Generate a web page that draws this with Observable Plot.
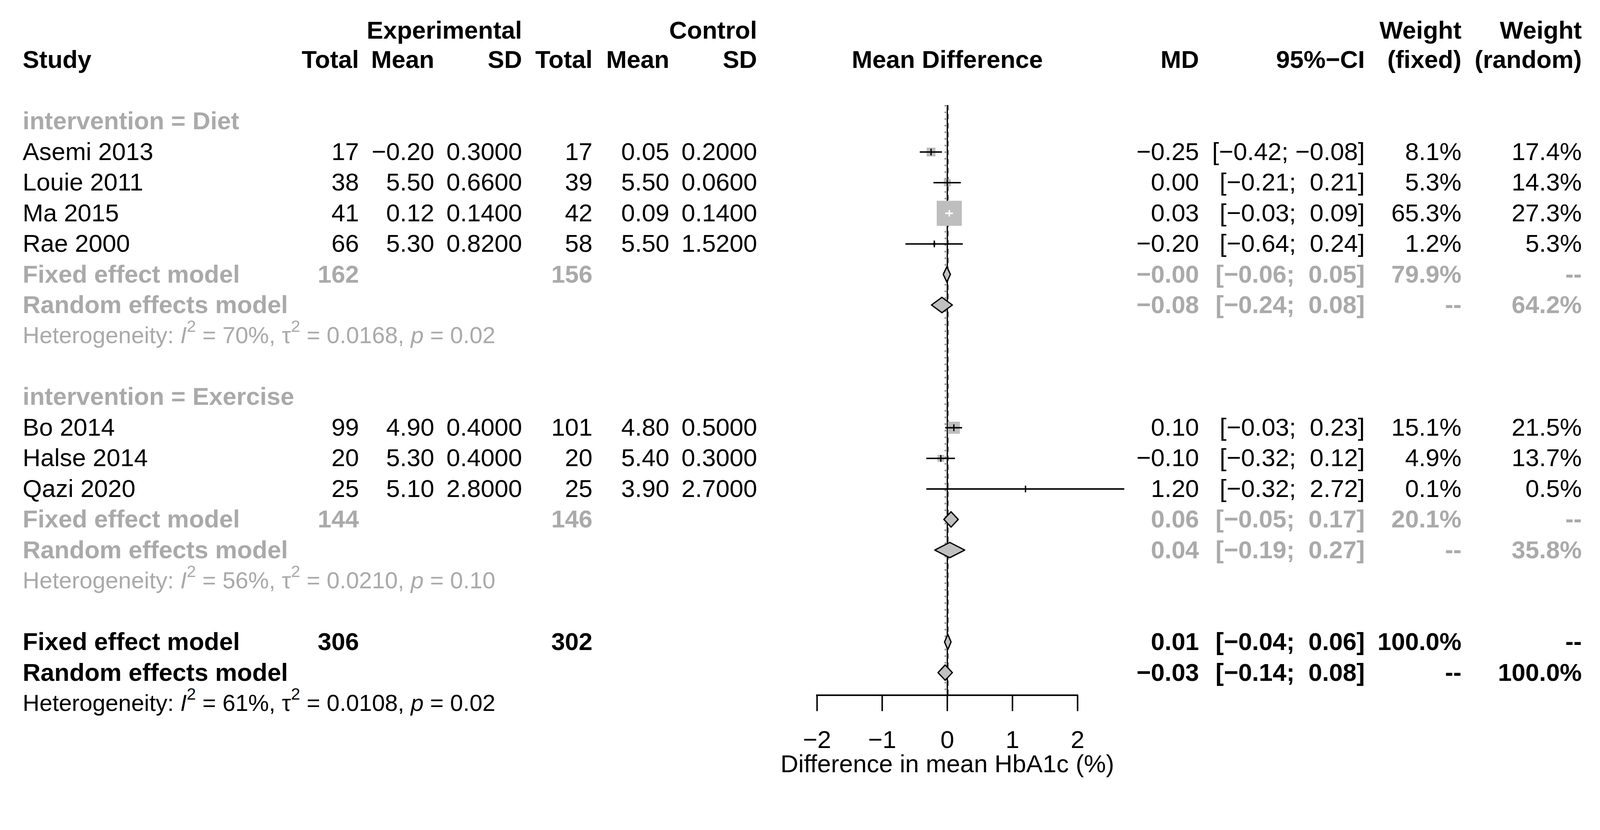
<!DOCTYPE html>
<html><head><meta charset="utf-8">
<script src="https://cdn.jsdelivr.net/npm/d3@7"></script>
<script src="https://cdn.jsdelivr.net/npm/@observablehq/plot@0.6"></script>
<style>
html,body{margin:0;padding:0;background:#fff;overflow:hidden;}
</style></head><body><div id="chart"></div>
<script>
// ---------------- DATA ----------------
const studyNames = ["Asemi 2013","Louie 2011","Ma 2015","Rae 2000","Bo 2014","Halse 2014","Qazi 2020"];
const studyGroup = ["Diet","Diet","Diet","Diet","Exercise","Exercise","Exercise"];
const eTotal = [17,38,41,66,99,20,25];
const eMean  = [-0.20,5.50,0.12,5.30,4.90,5.30,5.10];
const eSD    = [0.30,0.66,0.14,0.82,0.40,0.40,2.80];
const cTotal = [17,39,42,58,101,20,25];
const cMean  = [0.05,5.50,0.09,5.50,4.80,5.40,3.90];
const cSD    = [0.20,0.06,0.14,1.52,0.50,0.30,2.70];
const studyMD = [-0.25,0.00,0.03,-0.20,0.10,-0.10,1.20];
const studyLo = [-0.42,-0.21,-0.03,-0.64,-0.03,-0.32,-0.32];
const studyHi = [-0.08,0.21,0.09,0.24,0.23,0.12,2.72];
const wFixed  = [8.1,5.3,65.3,1.2,15.1,4.9,0.1];
const wRandom = [17.4,14.3,27.3,5.3,21.5,13.7,0.5];

const groups = ["Diet","Exercise"];
const grpETotal = [162,144];
const grpCTotal = [156,146];
const grpFixedMD = [-0.004,0.06], grpFixedLo = [-0.06,-0.05], grpFixedHi = [0.05,0.17], grpFixedW = [79.9,20.1];
const grpRandMD  = [-0.08,0.04],  grpRandLo  = [-0.24,-0.19], grpRandHi  = [0.08,0.27],  grpRandW  = [64.2,35.8];
const grpI2 = [70,56], grpTau2 = [0.0168,0.0210], grpP = [0.02,0.10];

const allETotal = 306, allCTotal = 302;
const allFixed = {md: 0.01, lo: -0.04, hi: 0.06, w: 100.0};
const allRand  = {md: -0.03, lo: -0.14, hi: 0.08, w: 100.0};
const allI2 = 61, allTau2 = 0.0108, allP = 0.02;

const xTicks = [-2,-1,0,1,2];
const axisTitle = "Difference in mean HbA1c (%)";
const headerTop = ["Experimental","Control","Weight","Weight"];
const headerBottom = ["Study","Total","Mean","SD","Total","Mean","SD","Mean Difference","MD","95%\u2212CI","(fixed)","(random)"];

// ---------------- FORMAT / TABLE ----------------
const NB = "\u00a0";
const fmt = (v, d) => v.toFixed(d).replace("-", "\u2212");
const pad = s => s.startsWith("\u2212") ? s : NB + s;
const ciTxt = (lo, hi) => "[" + pad(fmt(lo,2)) + ";" + NB + pad(fmt(hi,2)) + "]";
const pct = v => v.toFixed(1) + "%";
const het = (i2, t2, p) => `Heterogeneity: I\u00b2 = ${i2}%, \u03c4\u00b2 = ${t2.toFixed(4)}, p = ${p.toFixed(2)}`;

const rows = [];
const diamonds = [];
let r = 2;
groups.forEach((g, gi) => {
  rows.push({row: r++, kind: "group", label: "intervention = " + g});
  studyNames.forEach((s, i) => {
    if (studyGroup[i] !== g) return;
    rows.push({row: r++, kind: "study", label: s,
      eTotal: String(eTotal[i]), eMean: fmt(eMean[i],2), eSD: fmt(eSD[i],4),
      cTotal: String(cTotal[i]), cMean: fmt(cMean[i],2), cSD: fmt(cSD[i],4),
      md: studyMD[i], lo: studyLo[i], hi: studyHi[i], wf: wFixed[i],
      mdTxt: fmt(studyMD[i],2), ci: ciTxt(studyLo[i], studyHi[i]),
      wfTxt: pct(wFixed[i]), wrTxt: pct(wRandom[i])});
  });
  const fr = {row: r++, kind: "groupSum", label: "Fixed effect model",
    eTotal: String(grpETotal[gi]), cTotal: String(grpCTotal[gi]),
    mdTxt: fmt(grpFixedMD[gi],2), ci: ciTxt(grpFixedLo[gi], grpFixedHi[gi]),
    wfTxt: pct(grpFixedW[gi]), wrTxt: "--"};
  rows.push(fr);
  diamonds.push({row: fr.row, md: grpFixedMD[gi], lo: grpFixedLo[gi], hi: grpFixedHi[gi]});
  const rr = {row: r++, kind: "groupSum", label: "Random effects model",
    mdTxt: fmt(grpRandMD[gi],2), ci: ciTxt(grpRandLo[gi], grpRandHi[gi]),
    wfTxt: "--", wrTxt: pct(grpRandW[gi])};
  rows.push(rr);
  diamonds.push({row: rr.row, md: grpRandMD[gi], lo: grpRandLo[gi], hi: grpRandHi[gi]});
  rows.push({row: r++, kind: "groupHet", label: het(grpI2[gi], grpTau2[gi], grpP[gi])});
  r++;
});
{
  const fr = {row: r++, kind: "allSum", label: "Fixed effect model",
    eTotal: String(allETotal), cTotal: String(allCTotal),
    mdTxt: fmt(allFixed.md,2), ci: ciTxt(allFixed.lo, allFixed.hi),
    wfTxt: pct(allFixed.w), wrTxt: "--"};
  rows.push(fr);
  diamonds.push({row: fr.row, ...allFixed});
  const rr = {row: r++, kind: "allSum", label: "Random effects model",
    mdTxt: fmt(allRand.md,2), ci: ciTxt(allRand.lo, allRand.hi),
    wfTxt: "--", wrTxt: pct(allRand.w)};
  rows.push(rr);
  diamonds.push({row: rr.row, ...allRand});
  rows.push({row: r++, kind: "allHet", label: het(allI2, allTau2, allP)});
}
const studyRows = rows.filter(d => d.kind === "study");

// ---------------- LAYOUT ----------------
const W = 4268, H = 2126;
const FONT = "'Liberation Sans', Arial, Helvetica, sans-serif";
const FS = 66, FS_HET = 62;
const GRAY = "#aaaaaa", BOXGRAY = "#bebebe";
const xRange = [2179, 2874];
const pxPerUnit = (xRange[1] - xRange[0]) / (xTicks[xTicks.length-1] - xTicks[0]);
const rowTopPx = 160, rowStep = 81.76, axisPx = 1855;
const yDomain = [-rowTopPx / rowStep, (axisPx - rowTopPx) / rowStep];
const refTop = 1.47;          // top of the vertical reference lines (row units)
const diamondHalf = 0.25;     // diamond half height (row units)
const rMax = 37.8;            // square "radius" for the largest weight
const maxW = d3.max(wFixed);

const cols = [
  {key: "label",  x: 60,   anchor: "start"},
  {key: "eTotal", x: 957,  anchor: "end"},
  {key: "eMean",  x: 1158, anchor: "end"},
  {key: "eSD",    x: 1392, anchor: "end"},
  {key: "cTotal", x: 1580, anchor: "end"},
  {key: "cMean",  x: 1785, anchor: "end"},
  {key: "cSD",    x: 2019, anchor: "end"},
  {key: "mdTxt",  x: 3198, anchor: "end"},
  {key: "ci",     x: 3640, anchor: "end"},
  {key: "wfTxt",  x: 3898, anchor: "end"},
  {key: "wrTxt",  x: 4219, anchor: "end"}
];
const headerBottomPos = [
  {x: 60, a: "start"}, {x: 957, a: "end"}, {x: 1158, a: "end"}, {x: 1392, a: "end"},
  {x: 1580, a: "end"}, {x: 1785, a: "end"}, {x: 2019, a: "end"}, null,
  {x: 3198, a: "end"}, {x: 3640, a: "end"}, {x: 3898, a: "end"}, {x: 4219, a: "end"}
];
const headerTopPos = [1392, 2019, 3898, 4219];
const headerTopRow = -0.954;

const styles = [
  {kinds: ["study"], fill: "black", weight: "normal", size: FS},
  {kinds: ["group", "groupSum"], fill: GRAY, weight: "bold", size: FS},
  {kinds: ["allSum"], fill: "black", weight: "bold", size: FS},
  {kinds: ["groupHet"], fill: GRAY, weight: "normal", size: FS_HET, cls: "het"},
  {kinds: ["allHet"], fill: "black", weight: "normal", size: FS_HET, cls: "het"}
];

const textMarks = [];
for (const st of styles) {
  const data = rows.filter(d => st.kinds.includes(d.kind));
  for (const c of cols) {
    const sub = data.filter(d => d[c.key] !== undefined);
    if (!sub.length) continue;
    textMarks.push(Plot.text(sub, {
      y: "row", text: c.key, frameAnchor: "left", dx: c.x, textAnchor: c.anchor,
      fill: st.fill, fontWeight: st.weight, fontSize: st.size, fontFamily: FONT,
      className: st.cls
    }));
  }
}
headerBottom.forEach((h, i) => {
  const p = headerBottomPos[i];
  if (p) textMarks.push(Plot.text([h], {text: d => d, y: 0, frameAnchor: "left", dx: p.x, textAnchor: p.a,
    fontWeight: "bold", fontSize: FS, fontFamily: FONT, fill: "black"}));
  else textMarks.push(Plot.text([h], {text: d => d, y: 0, x: 0, textAnchor: "middle",
    fontWeight: "bold", fontSize: FS, fontFamily: FONT, fill: "black"}));
});
headerTop.forEach((h, i) => {
  textMarks.push(Plot.text([h], {text: d => d, y: headerTopRow, frameAnchor: "left", dx: headerTopPos[i], textAnchor: "end",
    fontWeight: "bold", fontSize: FS, fontFamily: FONT, fill: "black"}));
});

// diamond polygons
const diamondPts = diamonds.flatMap((d, i) => [
  {id: i, x: d.lo, y1: d.row, y2: d.row},
  {id: i, x: d.md, y1: d.row - diamondHalf, y2: d.row + diamondHalf},
  {id: i, x: d.hi, y1: d.row, y2: d.row}
]);

// white CI inside large squares
const sidePx = w => Math.sqrt(Math.PI) * rMax * Math.sqrt(w / maxW);
const inside = d => (d.hi - d.lo) * pxPerUnit < sidePx(d.wf);

const vbar = {draw(ctx, size) { const h = Math.sqrt(size / Math.PI); ctx.moveTo(0, -h); ctx.lineTo(0, h); }};

const plot = Plot.plot({
  width: W, height: H,
  marginLeft: 0, marginRight: 0, marginTop: 0, marginBottom: H - axisPx,
  style: {fontFamily: FONT, background: "white", overflow: "visible"},
  x: {domain: [xTicks[0], xTicks[xTicks.length-1]], range: xRange},
  y: {domain: yDomain, reverse: true, axis: null},
  r: {type: "sqrt", domain: [0, maxW], range: [0, rMax]},
  color: {type: "identity"},
  marks: [
    // reference lines
    Plot.ruleX([allRand.md], {y1: refTop, y2: yDomain[1], stroke: "#808080", strokeWidth: 4, strokeDasharray: "4,13.7"}),
    Plot.ruleX([0], {y1: refTop, y2: yDomain[1], stroke: "black", strokeWidth: 3.5}),
    Plot.ruleX([allFixed.md], {y1: refTop, y2: yDomain[1], stroke: "black", strokeWidth: 2.5, strokeDasharray: "14,10"}),
    // study squares
    Plot.dot(studyRows, {x: "md", y: "row", r: "wf", symbol: "square", fill: BOXGRAY, stroke: "none"}),
    // CIs and estimate ticks
    Plot.ruleY(studyRows, {y: "row", x1: "lo", x2: "hi", stroke: d => inside(d) ? "white" : "black", strokeWidth: 4}),
    Plot.dot(studyRows, {x: "md", y: "row", symbol: vbar, r: 9, fill: "none", stroke: d => inside(d) ? "white" : "black", strokeWidth: 3.5}),
    // diamonds
    Plot.areaY(diamondPts, {x: "x", y1: "y1", y2: "y2", z: "id", fill: "#c0c0c0", stroke: "black", strokeWidth: 3.5, strokeLinejoin: "round"}),
    // axis
    Plot.ruleY([yDomain[1]], {x1: xTicks[0], x2: xTicks[xTicks.length-1], stroke: "black", strokeWidth: 4, strokeLinecap: "square"}),
    Plot.axisX({ticks: xTicks, tickSize: 43, tickPadding: 51, fontSize: FS, fontFamily: FONT, strokeWidth: 4,
      tickFormat: d => d < 0 ? "\u2212" + (-d) : String(d), label: null, fill: "black", color: "black"}),
    Plot.text([axisTitle], {text: d => d, x: 0, frameAnchor: "bottom", dy: 206, fontSize: FS, fontFamily: FONT, fill: "black"}),
    ...textMarks
  ]
});

// rich text for heterogeneity lines (italic I and p, superscript 2)
plot.querySelectorAll("g.het text").forEach(t => {
  const s = t.textContent;
  const m = s.match(/^Heterogeneity: I\u00b2 = (.*?), \u03c4\u00b2 = (.*?), p = (.*)$/);
  if (!m) return;
  const NS = "http://www.w3.org/2000/svg";
  while (t.firstChild) t.removeChild(t.firstChild);
  const add = (txt, opts = {}) => {
    const ts = document.createElementNS(NS, "tspan");
    ts.textContent = txt;
    for (const k in opts) ts.setAttribute(k, opts[k]);
    t.appendChild(ts);
  };
  add("Heterogeneity: ");
  add("I", {"font-style": "italic"});
  add("2", {"font-size": "44", dy: "-30"});
  add(" = " + m[1] + ", \u03c4", {dy: "30"});
  add("2", {"font-size": "44", dy: "-30"});
  add(" = " + m[2] + ", ", {dy: "30"});
  add("p", {"font-style": "italic"});
  add(" = " + m[3]);
});

document.getElementById("chart").appendChild(plot);
</script>
</body></html>
